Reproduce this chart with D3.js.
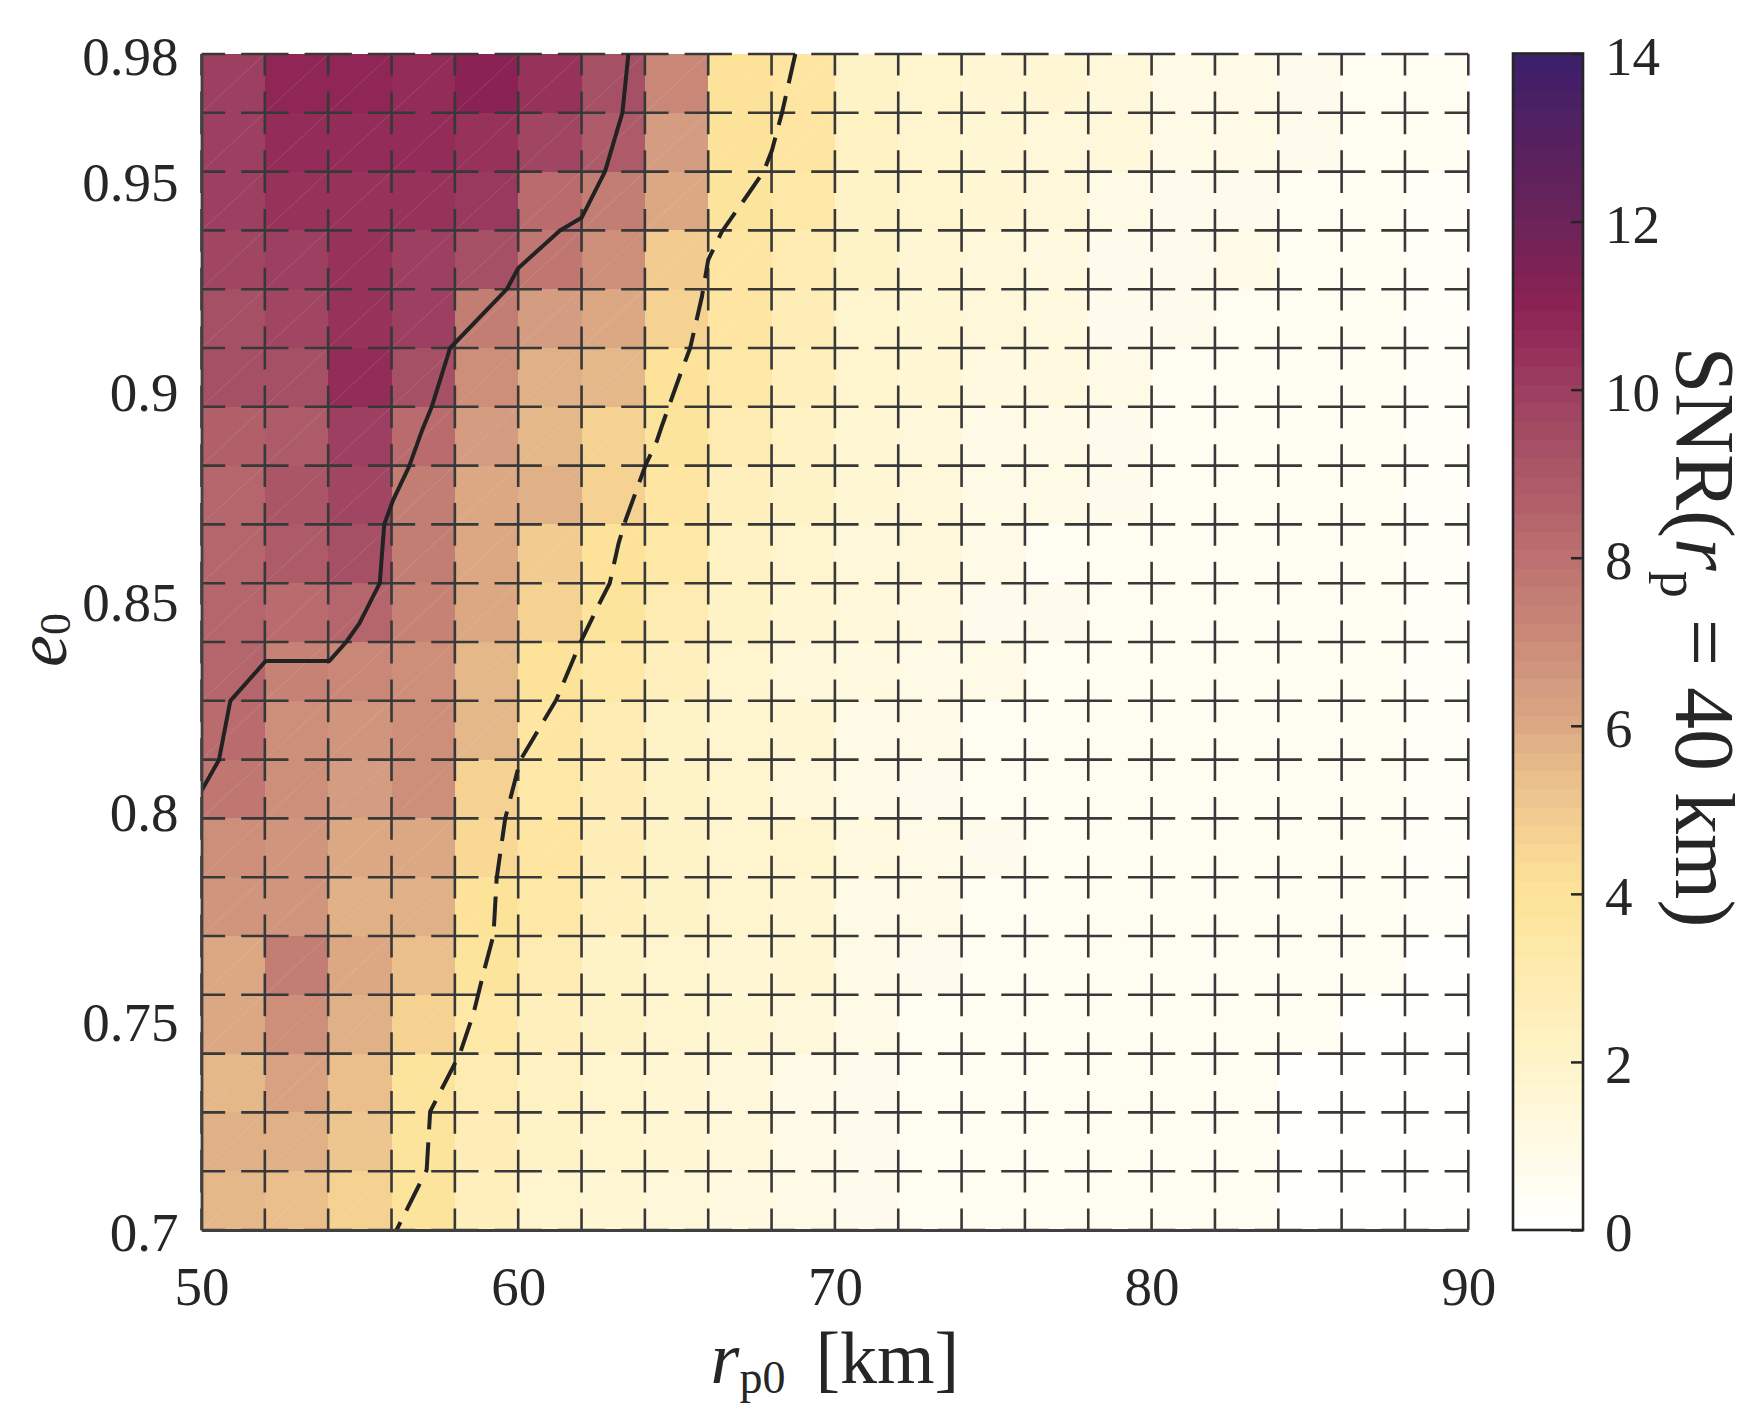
<!DOCTYPE html>
<html>
<head>
<meta charset="utf-8">
<script src="https://cdn.jsdelivr.net/npm/d3@7"></script>
<style>
  body { margin: 0; background: #ffffff; }
  svg { display: block; }
  text { font-family: "Liberation Serif", "Times New Roman", serif; fill: #262626; }
</style>
</head>
<body>
<svg id="chart" width="1753" height="1412"></svg>
<script>
// ---------------- data ----------------
// grid node positions (cell edges)
const gridR = [50,52,54,56,58,60,62,64,66,68,70,72,74,76,78,80,82,84,86,88,90];
const gridE = [0.700,0.714,0.728,0.742,0.756,0.770,0.784,0.798,0.812,0.826,0.840,
               0.854,0.868,0.882,0.896,0.910,0.924,0.938,0.952,0.966,0.980];

// SNR(r_p = 40 km) per cell, rows from e0 = 0.700 (bottom) to 0.966 (top), columns r_p0 = 50 ... 88
const snrRow00 = [5.5,5.3,4.7,3.8,2.5,1.9,1.6,1.4,1.3,0.9,0.85,0.5,0.45,0.45,0.45,0.45,0.45,0.05,0.05,0.05];
const snrRow01 = [5.8,5.9,5.1,3.9,2.8,2.0,1.8,1.6,1.4,0.9,0.85,0.5,0.45,0.45,0.45,0.45,0.45,0.05,0.05,0.05];
const snrRow02 = [5.6,6.2,5.4,3.9,2.9,2.2,1.8,1.7,1.5,1.05,0.85,0.5,0.45,0.45,0.45,0.45,0.45,0.2,0.05,0.05];
const snrRow03 = [6.0,6.8,5.8,4.6,3.4,2.6,2.0,1.8,1.6,1.4,0.9,0.5,0.45,0.45,0.45,0.45,0.45,0.45,0.2,0.05];
const snrRow04 = [6.0,7.5,6.0,5.3,3.8,2.9,2.1,1.9,1.7,1.6,1.0,0.85,0.5,0.45,0.45,0.45,0.45,0.45,0.45,0.1];
const snrRow05 = [6.7,6.7,5.9,5.7,4.0,3.4,2.5,2.0,1.8,1.7,1.05,0.9,0.5,0.45,0.45,0.45,0.45,0.45,0.45,0.3];
const snrRow06 = [6.9,6.7,6.0,6.1,4.4,3.5,2.8,2.0,1.9,1.8,1.3,1.0,0.85,0.45,0.45,0.45,0.45,0.45,0.45,0.4];
const snrRow07 = [7.7,6.8,6.5,6.8,4.8,3.4,2.7,2.0,1.8,1.5,0.9,0.85,0.5,0.45,0.45,0.45,0.45,0.45,0.45,0.4];
const snrRow08 = [8.3,6.8,6.6,6.9,5.5,3.5,3.0,2.1,1.9,1.6,1.0,0.9,0.5,0.45,0.45,0.45,0.45,0.45,0.45,0.4];
const snrRow09 = [8.4,7.3,7.1,6.8,5.6,4.0,3.4,2.5,1.8,1.5,1.3,1.0,0.9,0.5,0.45,0.45,0.45,0.45,0.45,0.4];
const snrRow10 = [8.5,8.3,8.4,7.3,6.0,4.6,3.9,3.0,2.0,1.7,1.4,1.2,0.85,0.85,0.5,0.45,0.45,0.45,0.45,0.4];
const snrRow11 = [8.4,8.9,9.4,7.6,6.0,5.0,4.0,3.4,2.2,1.9,1.5,1.4,0.9,0.55,0.5,0.45,0.45,0.45,0.45,0.4];
const snrRow12 = [8.4,9.1,9.8,7.6,6.1,5.7,4.7,3.6,2.6,2.0,1.6,1.5,1.0,0.9,0.8,0.45,0.45,0.45,0.45,0.4];
const snrRow13 = [8.7,8.8,10.0,8.2,6.5,5.6,4.6,3.8,3.0,2.2,1.6,1.5,1.0,0.95,0.85,0.5,0.45,0.45,0.45,0.4];
const snrRow14 = [9.2,9.2,10.7,9.3,6.9,5.9,5.5,4.0,3.3,2.6,1.9,1.6,1.3,1.1,0.9,0.5,0.45,0.45,0.45,0.4];
const snrRow15 = [9.2,9.7,10.4,9.9,7.6,6.4,6.1,4.6,3.5,2.8,1.9,1.7,1.4,1.1,0.8,0.8,0.5,0.45,0.45,0.4];
const snrRow16 = [9.7,9.9,10.4,9.9,9.3,7.7,6.8,5.0,3.6,3.0,2.0,1.7,1.5,1.3,0.85,0.85,0.9,0.5,0.45,0.4];
const snrRow17 = [10.0,10.3,10.4,10.4,10.2,8.3,7.6,6.0,3.9,3.3,2.1,1.8,1.6,1.4,0.9,0.85,0.85,0.5,0.45,0.4];
const snrRow18 = [10.0,10.5,10.7,10.7,10.3,9.7,8.8,6.5,4.0,3.5,2.2,1.9,1.7,1.5,1.4,0.9,0.9,0.85,0.5,0.45];
const snrRow19 = [10.0,10.8,10.8,10.5,11.0,10.4,9.2,7.1,4.0,3.5,2.1,1.9,1.7,1.6,1.4,0.9,0.9,0.85,0.5,0.45];
const snrRows = [snrRow00,snrRow01,snrRow02,snrRow03,snrRow04,snrRow05,snrRow06,snrRow07,snrRow08,snrRow09,
                 snrRow10,snrRow11,snrRow12,snrRow13,snrRow14,snrRow15,snrRow16,snrRow17,snrRow18,snrRow19];

// contour lines [r_p0, e0]
const contourSolid = [[63.48,0.980],[63.29,0.966],[62.74,0.952],[62.00,0.941],[61.32,0.938],[60.00,0.929],
  [59.64,0.924],[57.85,0.910],[57.27,0.896],[56.97,0.8905],[56.55,0.8817],[56.05,0.8738],[55.77,0.868],
  [55.63,0.854],[54.99,0.8445],[54.57,0.840],[54.04,0.8355],[52.03,0.8355],[50.91,0.826],[50.55,0.8119],[50.00,0.8046]];
const contourDashed = [[68.75,0.980],[68.33,0.966],[68.01,0.957],[67.75,0.952],[67.11,0.945],[66.43,0.9377],
  [66.00,0.931],[65.80,0.9222],[65.43,0.910],[65.17,0.9048],[64.53,0.8913],[64.37,0.8877],[64.02,0.8821],
  [63.39,0.869],[63.17,0.8635],[62.89,0.854],[62.54,0.8488],[61.97,0.840],[61.20,0.8262],[60.07,0.8119],
  [59.93,0.8079],[59.59,0.798],[59.32,0.7837],[59.22,0.7702],[58.90,0.7611],[58.59,0.7516],[58.16,0.742],
  [57.22,0.7282],[57.11,0.7143],[56.16,0.700]];

// ticks
const xTicks = [50,60,70,80,90];
const yTicks = [0.7,0.75,0.8,0.85,0.9,0.95,0.98];
const cbTicks = [0,2,4,6,8,10,12,14];

// colormap stops
const cmapValues = [0,0.5,1,1.5,2,2.5,3,3.5,4,4.5,5,5.5,6,6.5,7,7.5,8,8.5,9,9.5,10,10.5,11,12,13,14];
const cmapColors = ["#ffffff","#fffdf3","#fffae6","#fff7d8","#fef3c9","#feefbd","#feebb0","#fee7a4",
  "#fde39a","#f8d894","#f0c98f","#e7bb8b","#dca884","#d39b80","#cb8a78","#c47f74","#bd7070","#b3636b",
  "#ab5867","#a34b63","#9c3e60","#952f5a","#8c2253","#6b2359","#55205f","#3b1f6b"];

// ---------------- drawing ----------------
const svg = d3.select("#chart");
const L = 201.5, R = 1468.3, T = 54, B = 1230;
const x = d3.scaleLinear().domain([50, 90]).range([L, R]);
const y = d3.scaleLinear().domain([0.7, 0.98]).range([B, T]);

const cmin = 0, cmax = 14, nLevels = 64;
const cont = d3.scaleLinear().domain(cmapValues).range(cmapColors).interpolate(d3.interpolateRgb);
const bandColors = d3.range(nLevels).map(i => cont(cmin + (i + 0.5) * (cmax - cmin) / nLevels));
const color = d3.scaleQuantize().domain([cmin, cmax]).range(bandColors);

// cells
const cells = [];
snrRows.forEach((row, k) => row.forEach((v, c) => cells.push({c, k, v})));
const gCells = svg.append("g").attr("shape-rendering", "crispEdges");
gCells.selectAll("rect").data(cells).join("rect")
  .attr("x", d => x(gridR[d.c]))
  .attr("y", d => y(gridE[d.k + 1]))
  .attr("width", d => x(gridR[d.c + 1]) - x(gridR[d.c]))
  .attr("height", d => y(gridE[d.k]) - y(gridE[d.k + 1]))
  .attr("fill", d => color(d.v));

// faint triangle seams
svg.append("g").selectAll("line").data(cells).join("line")
  .attr("x1", d => x(gridR[d.c])).attr("y1", d => y(gridE[d.k]))
  .attr("x2", d => x(gridR[d.c + 1])).attr("y2", d => y(gridE[d.k + 1]))
  .attr("stroke", "#ffffff").attr("stroke-opacity", 0.13).attr("stroke-width", 1);

// dashed grid with crosses at the nodes
const gridColor = "#383838", gridW = 2.6, gap = 16;
const gGrid = svg.append("g");
const pX = x(52) - x(50), pY = y(0.7) - y(0.714);
gGrid.selectAll("line.v").data(gridR).join("line").attr("class", "v")
  .attr("x1", d => x(d)).attr("x2", d => x(d))
  .attr("y1", y(0.7)).attr("y2", y(0.98))
  .attr("stroke", gridColor).attr("stroke-width", gridW)
  .attr("stroke-dasharray", `${pY - gap} ${gap}`)
  .attr("stroke-dashoffset", (pY - gap) / 2);
gGrid.selectAll("line.h").data(gridE).join("line").attr("class", "h")
  .attr("y1", d => y(d)).attr("y2", d => y(d))
  .attr("x1", x(50)).attr("x2", x(90))
  .attr("stroke", gridColor).attr("stroke-width", gridW)
  .attr("stroke-dasharray", `${pX - gap} ${gap}`)
  .attr("stroke-dashoffset", (pX - gap) / 2);

// contour lines
svg.append("clipPath").attr("id", "plotclip").append("rect")
  .attr("x", L).attr("y", T).attr("width", R - L).attr("height", B - T);
const line = d3.line().x(d => x(d[0])).y(d => y(d[1]));
const gC = svg.append("g").attr("clip-path", "url(#plotclip)");
gC.append("path").attr("d", line(contourSolid)).attr("fill", "none")
  .attr("stroke", "#222222").attr("stroke-width", 4).attr("stroke-linejoin", "round");
gC.append("path").attr("d", line(contourDashed)).attr("fill", "none")
  .attr("stroke", "#222222").attr("stroke-width", 4).attr("stroke-dasharray", "30 13");

// axes (left and bottom solid lines)
const axisColor = "#404040";
const xAxis = svg.append("g").attr("transform", `translate(0,${B})`)
  .call(d3.axisBottom(x).tickValues(xTicks).tickSize(0).tickPadding(36).tickFormat(d => String(d)));
const yAxis = svg.append("g").attr("transform", `translate(${L},0)`)
  .call(d3.axisLeft(y).tickValues(yTicks).tickSize(0).tickPadding(23).tickFormat(d => String(d)));
[xAxis, yAxis].forEach(a => {
  a.select(".domain").attr("stroke", axisColor).attr("stroke-width", 2.8);
  a.selectAll("text").attr("font-size", 55).attr("fill", "#262626")
    .style("font-family", '"Liberation Serif", "Times New Roman", serif');
});
yAxis.selectAll("text").attr("dy", "0.38em");

// colorbar
const cbL = 1513, cbR = 1583;
const cb = d3.scaleLinear().domain([cmin, cmax]).range([B, 53.5]);
const bands = d3.range(nLevels);
svg.append("g").attr("shape-rendering", "crispEdges").selectAll("rect").data(bands).join("rect")
  .attr("x", cbL).attr("width", cbR - cbL)
  .attr("y", i => cb(cmin + (i + 1) * (cmax - cmin) / nLevels))
  .attr("height", i => cb(cmin + i * (cmax - cmin) / nLevels) - cb(cmin + (i + 1) * (cmax - cmin) / nLevels) + 0.5)
  .attr("fill", i => bandColors[i]);
svg.append("rect").attr("x", cbL).attr("y", cb(cmax)).attr("width", cbR - cbL).attr("height", cb(cmin) - cb(cmax))
  .attr("fill", "none").attr("stroke", "#262626").attr("stroke-width", 2.6);
const cbAxis = svg.append("g").attr("transform", `translate(${cbR},0)`)
  .call(d3.axisRight(cb).tickValues(cbTicks).tickSize(-12).tickPadding(22).tickFormat(d => String(d)));
cbAxis.select(".domain").remove();
cbAxis.selectAll("line").attr("stroke", "#262626").attr("stroke-width", 2.5);
cbAxis.selectAll("text").attr("font-size", 55).attr("fill", "#262626").attr("dy", "0.38em")
  .attr("x", 22)
  .style("font-family", '"Liberation Serif", "Times New Roman", serif');

// axis labels
const xl = svg.append("text").attr("x", (L + R) / 2).attr("y", 1383)
  .attr("text-anchor", "middle").attr("font-size", 74);
xl.append("tspan").attr("font-style", "italic").text("r");
xl.append("tspan").attr("font-size", 46).attr("dy", 10).text("p0");
xl.append("tspan").attr("dy", -10).attr("dx", 30).text("[km]");

const yl = svg.append("text").attr("transform", `translate(66,640) rotate(-90)`)
  .attr("text-anchor", "middle").attr("font-size", 72);
yl.append("tspan").attr("font-style", "italic").text("e");
yl.append("tspan").attr("font-size", 44).attr("dy", 4).text("0");

const cl = svg.append("text").attr("transform", `translate(1676,637) rotate(90)`)
  .attr("text-anchor", "middle").attr("font-size", 84);
cl.append("tspan").text("SNR(");
cl.append("tspan").attr("font-style", "italic").text("r");
cl.append("tspan").attr("font-size", 54).attr("dy", 15).text("p");
cl.append("tspan").attr("dy", -15).text(" = 40 km)");
</script>
</body>
</html>
